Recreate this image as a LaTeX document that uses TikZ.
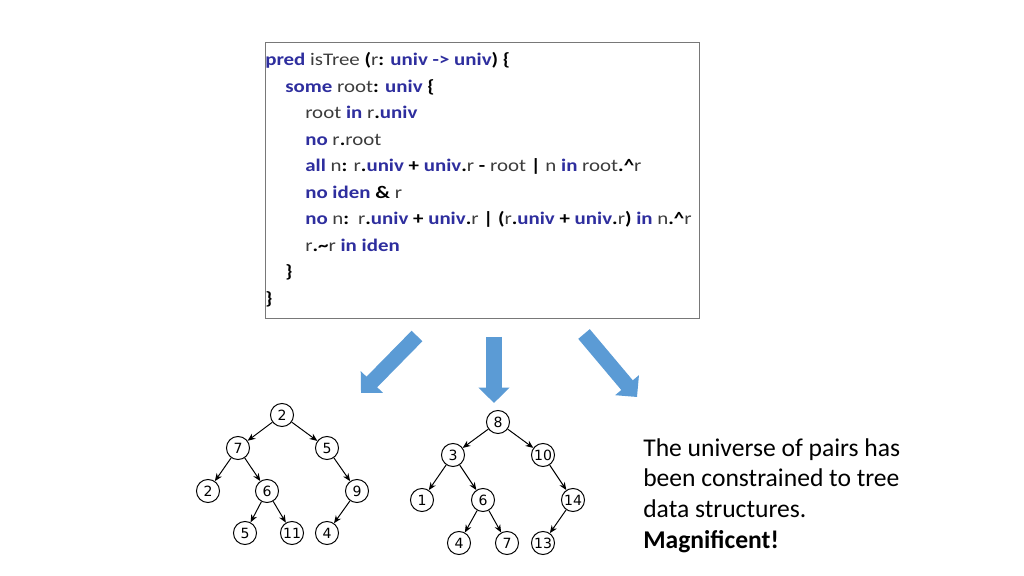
\documentclass[tikz,border=0pt]{standalone}
\usepackage{fontspec}
\setmainfont{Carlito}
\newfontfamily\codefont[FakeStretch=1.18]{Carlito}
\newfontfamily\treefont{DejaVu Sans}
\usetikzlibrary{arrows.meta}

\definecolor{kwblue}{RGB}{46,46,158}
\definecolor{idgray}{RGB}{60,60,60}
\definecolor{framegray}{RGB}{120,120,120}
\definecolor{arrowblue}{RGB}{91,155,213}
\newcommand{\kw}[1]{\textbf{\color{kwblue}#1}}
\newcommand{\sy}[1]{\textbf{\color{black}#1}}

\tikzset{
  codeln/.style={anchor=base west, inner sep=0pt, text=idgray, font=\codefont\fontsize{12.6}{15}\selectfont},
  tnode/.style={circle, draw, line width=0.7pt, minimum size=16.4pt, inner sep=0pt, font=\treefont\fontsize{10}{11}\selectfont},
  tedge/.style={-{Stealth[length=5.5pt, width=4.5pt]}, line width=0.7pt},
  bigarrow/.style={draw=arrowblue, line width=10.7pt, -{Triangle[length=11pt, width=21.5pt]}},
}

\begin{document}
\begin{tikzpicture}[x=0.025cm, y=-0.025cm, >=stealth]
        \useasboundingbox (0,0) rectangle (1024,576);
        % Alloy predicate
        \draw[framegray, line width=0.7pt] (265,42) rectangle (699,318);
        \node[codeln] (l1) at (265, 66) {\kw{pred} isTree \sy{(}r\sy{:} \kw{univ -> univ}\sy{) \{}};
        \node[codeln] (l2) at (285, 92.5) {\kw{some} root\sy{:} \kw{univ} \sy{\{}};
        \node[codeln] (l3) at (305, 119) {root \kw{in} r\sy{.}\kw{univ}};
        \node[codeln] (l4) at (305, 145.5) {\kw{no} r\sy{.}root};
        \node[codeln] (l5) at (305, 172) {\kw{all} n\sy{:} r\sy{.}\kw{univ} \sy{+} \kw{univ}\sy{.}r \sy{-} root \sy{|} n \kw{in} root\sy{.\textasciicircum}r};
        \node[codeln] (l6) at (305, 198.5) {\kw{no iden} \sy{\&} r};
        \node[codeln] (l7) at (305, 225) {\kw{no} n\sy{:}\enspace r\sy{.}\kw{univ} \sy{+} \kw{univ}\sy{.}r \sy{|} \sy{(}r\sy{.}\kw{univ} \sy{+} \kw{univ}\sy{.}r\sy{)} \kw{in} n\sy{.\textasciicircum}r};
        \node[codeln] (l8) at (305, 251.5) {r\sy{.\textasciitilde}r \kw{in iden}};
        \node[codeln] (l9) at (285, 278) {\sy{\}}};
        \node[codeln] (l10) at (265, 304.5) {\sy{\}}};

        % block arrows
        \coordinate (la0) at (417,336);
        \coordinate (la1) at (361,393);
        \coordinate (ma0) at (494,337);
        \coordinate (ma1) at (494,403);
        \coordinate (ra0) at (584,334);
        \coordinate (ra1) at (637,397);
        \draw[bigarrow] (la0) -- (la1);
        \draw[bigarrow] (ma0) -- (ma1);
        \draw[bigarrow] (ra0) -- (ra1);

        % first tree
        \node[tnode] (a2) at (282,415) {2};
        \node[tnode] (a7) at (238,448) {7};
        \node[tnode] (a5) at (327,448) {5};
        \node[tnode] (a2b) at (208,491) {2};
        \node[tnode] (a6) at (267,491) {6};
        \node[tnode] (a9) at (357,491) {9};
        \node[tnode] (a5b) at (245,533) {5};
        \node[tnode] (a11) at (292,533) {11};
        \node[tnode] (a4) at (327,533) {4};
        \draw[tedge] (a2) to (a7);
        \draw[tedge] (a2) to (a5);
        \draw[tedge] (a7) to (a2b);
        \draw[tedge] (a7) to (a6);
        \draw[tedge] (a6) to (a5b);
        \draw[tedge] (a6) to (a11);
        \draw[tedge] (a5) to (a9);
        \draw[tedge] (a9) to (a4);

        % second tree
        \node[tnode] (b8) at (498,422) {8};
        \node[tnode] (b3) at (453,455) {3};
        \node[tnode] (b10) at (543,455) {10};
        \node[tnode] (b1) at (422,500) {1};
        \node[tnode] (b6) at (483,500) {6};
        \node[tnode] (b14) at (573,500) {14};
        \node[tnode] (b4) at (459,543) {4};
        \node[tnode] (b7) at (507,543) {7};
        \node[tnode] (b13) at (543,543) {13};
        \draw[tedge] (b8) to (b3);
        \draw[tedge] (b8) to (b10);
        \draw[tedge] (b3) to (b1);
        \draw[tedge] (b3) to (b6);
        \draw[tedge] (b6) to (b4);
        \draw[tedge] (b6) to (b7);
        \draw[tedge] (b10) to (b14);
        \draw[tedge] (b14) to (b13);

        \node[anchor=base west, align=left, inner sep=0pt, font=\fontsize{18.2}{21.7}\selectfont] (caption) at (643,548)
          {The universe of pairs has\\been constrained to tree\\data structures.\\\textbf{Magnificent!}};
    \end{tikzpicture}
\end{document}
